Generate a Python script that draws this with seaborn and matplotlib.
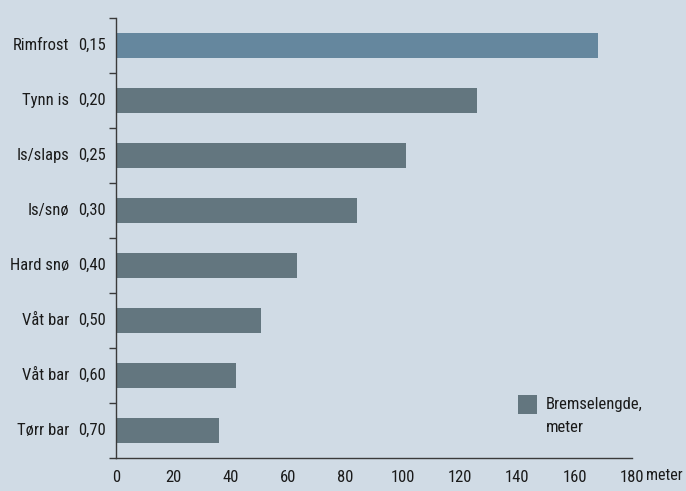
import matplotlib
matplotlib.use("Agg")
import matplotlib.pyplot as plt
import matplotlib.transforms as mtransforms
from matplotlib import font_manager
import seaborn as sns
import pandas as pd

# Data
underlag = ["Rimfrost", "Tynn is", "Is/slaps", "Is/snø", "Hard snø", "Våt bar", "Våt bar", "Tørr bar"]
friksjon = ["0,15", "0,20", "0,25", "0,30", "0,40", "0,50", "0,60", "0,70"]
bremselengde = [168, 126, 101, 84, 63, 50.5, 42, 36]
x_ticks = [0, 20, 40, 60, 80, 100, 120, 140, 160, 180]

bg = "#d0dbe5"
bar_grey = "#63767f"
bar_blue = "#65879e"
txt = "#1a1a1a"

sns.set_theme(style="white")
names = {f.name for f in font_manager.fontManager.ttflist}
narrow = [n for n in ["Liberation Sans Narrow", "Roboto Condensed", "Open Sans Condensed"] if n in names]
plt.rcParams["font.family"] = narrow + ["DejaVu Sans"]
plt.rcParams["font.stretch"] = "condensed"
fs = 12

df = pd.DataFrame({
    "rad": [f"{n} {f}" for n, f in zip(underlag, friksjon)],
    "lengde": bremselengde,
    "gruppe": ["a"] + ["b"] * (len(underlag) - 1),
})

fig = plt.figure(figsize=(6.86, 4.91), dpi=100, facecolor=bg)
ax = fig.add_axes([116 / 686, 1 - 458 / 491, (632 - 116) / 686, (458 - 18) / 491])
ax.set_facecolor(bg)

sns.barplot(data=df, y="rad", x="lengde", hue="gruppe", palette={"a": bar_blue, "b": bar_grey},
            dodge=False, legend=False, width=0.44, saturation=1, linewidth=0, ax=ax)

ax.set_xlim(0, 180)
ax.set_ylim(len(underlag) - 0.5, -0.5)
ax.set_xlabel("")
ax.set_ylabel("")

for s in ["top", "right"]:
    ax.spines[s].set_visible(False)
for s in ["left", "bottom"]:
    ax.spines[s].set_color("#3a3a3a")
    ax.spines[s].set_linewidth(1.0)

# x axis
ax.set_xticks(x_ticks)
ax.set_xticklabels([str(t) for t in x_ticks], fontsize=fs, color=txt)
ax.tick_params(axis="x", direction="in", length=4, width=1, color="#3a3a3a", pad=9)
fig.text(646 / 686, 1 - 476 / 491, "meter", ha="left", va="center", fontsize=11.5, color=txt)

# y axis: labels drawn as two columns, ticks between rows
ax.set_yticks(range(len(underlag)))
ax.set_yticklabels([])
ax.tick_params(axis="y", which="major", length=0)
ax.set_yticks([i - 0.5 for i in range(len(underlag) + 1)], minor=True)
ax.tick_params(axis="y", which="minor", direction="out", length=5, width=1, color="#3a3a3a", left=True)

trans = mtransforms.blended_transform_factory(fig.transFigure, ax.transData)
for i, (n, f) in enumerate(zip(underlag, friksjon)):
    ax.text(69 / 686, i, n, transform=trans, ha="right", va="center", fontsize=fs, color=txt)
    ax.text(78 / 686, i, f, transform=trans, ha="left", va="center", fontsize=fs, color=txt)

# legend
fig.patches.append(plt.Rectangle((518 / 686, 1 - 414 / 491), 19 / 686, 19 / 491,
                                 transform=fig.transFigure, facecolor=bar_grey, edgecolor="none"))
fig.text(546 / 686, 1 - 405 / 491, "Bremselengde,", ha="left", va="center", fontsize=fs, color=txt)
fig.text(546 / 686, 1 - 428 / 491, "meter", ha="left", va="center", fontsize=fs, color=txt)

fig.savefig("out.png", dpi=100, facecolor=bg)
